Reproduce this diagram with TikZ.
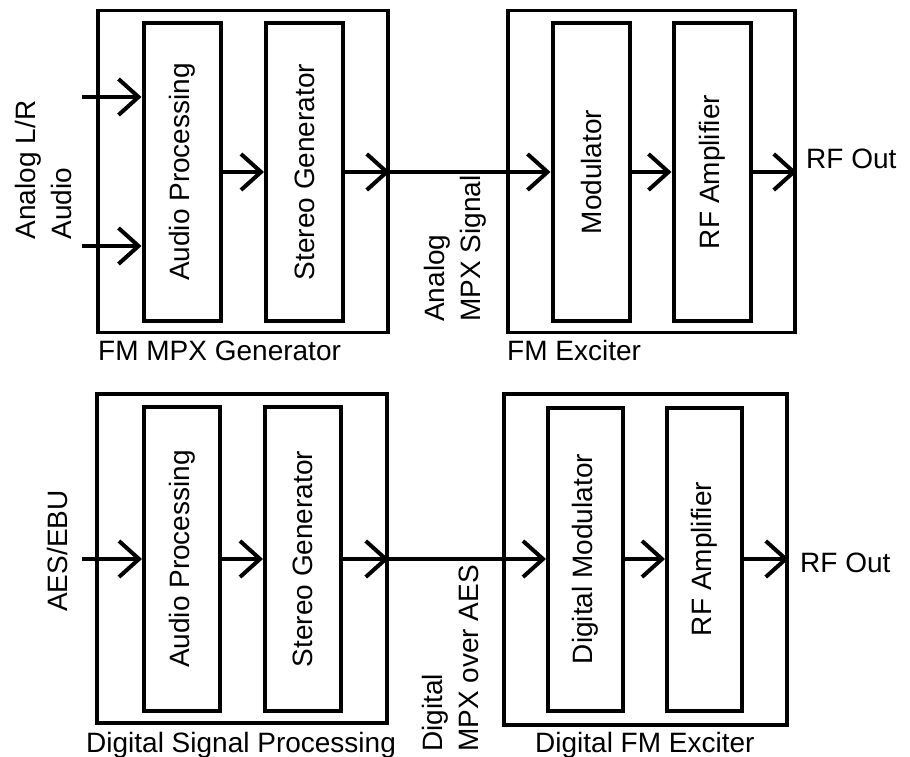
\documentclass[tikz,border=0pt]{standalone}
\usepackage{fontspec}
\setmainfont{Liberation Sans}
\usepackage{tikz}
\usetikzlibrary{arrows.meta}
\tikzset{
  flow/.style={-{Straight Barb[length=20pt,width=36pt]}, line width=4pt},
  outerbox/.style={draw, line width=3.5pt, minimum width=290pt, minimum height=322pt, inner sep=0pt},
  block/.style={draw, line width=4pt, minimum width=77pt, minimum height=298pt, inner sep=0pt},
  lbl/.style={inner sep=0pt},
  vlbl/.style={lbl, rotate=90, align=left}
}

\begin{document}
\begin{tikzpicture}[x=1pt, y=-1pt, font=\fontsize{28}{36}\selectfont]
  \useasboundingbox (0,0) rectangle (910,757);
  % analog chain
  \node[outerbox] (gen) at (243,171.5) {};
  \node[block] (ap1) at (182,172) {\rotatebox{90}{Audio Processing}};
  \node[block] (sg1) at (304.5,172) {\rotatebox{90}{Stereo Generator}};
  \node[outerbox, minimum width=287pt] (exc) at (651.5,171.5) {};
  \node[block] (mod1) at (591,172) {\rotatebox{90}{Modulator}};
  \node[block] (rfa1) at (712,172) {\rotatebox{90}{RF Amplifier}};
  \coordinate (inL) at (82,97);
  \coordinate (inR) at (82,246);
  \node[vlbl] (inlbl) at (43,170) {Analog L/R\\Audio};
  \node[vlbl, anchor=west] (mpxlbl) at (455,322) {Analog\\MPX Signal};
  \node[lbl, anchor=base west] (rfout1) at (806,168) {RF Out};
  \node[lbl, anchor=base west] (genlbl) at (98,360) {FM MPX Generator};
  \node[lbl, anchor=base west] (exclbl) at (507,360) {FM Exciter};
  \draw[flow] (inL) -- (ap1.west |- inL);
  \draw[flow] (inR) -- (ap1.west |- inR);
  \draw[flow] (ap1) -- (sg1);
  \draw[flow] (sg1) -- (gen.east |- sg1);
  \draw[flow] (gen.east |- sg1) -- (mod1);
  \draw[flow] (mod1) -- (rfa1);
  \draw[flow] (rfa1) -- (exc.east |- rfa1);
  % digital chain
  \node[outerbox, minimum height=329pt] (dsp) at (242,558.5) {};
  \node[block, minimum width=76pt, minimum height=304pt] (ap2) at (182,559) {\rotatebox{90}{Audio Processing}};
  \node[block, minimum width=76pt, minimum height=304pt] (sg2) at (303,559) {\rotatebox{90}{Stereo Generator}};
  \node[outerbox, minimum width=283pt, minimum height=331pt] (dexc) at (645.5,559.5) {};
  \node[block, minimum width=75pt, minimum height=303pt] (dmod) at (585.5,559) {\rotatebox{90}{Digital Modulator}};
  \node[block, minimum width=75pt, minimum height=303pt] (rfa2) at (704.5,559) {\rotatebox{90}{RF Amplifier}};
  \coordinate (inD) at (82,559);
  \node[vlbl] (aeslbl) at (57,551) {AES/EBU};
  \node[vlbl, anchor=west] (aesmpx) at (450,752) {Digital\\MPX over AES};
  \node[lbl, anchor=base west] (rfout2) at (800,572) {RF Out};
  \node[lbl, anchor=base west] (dsplbl) at (86,752) {Digital Signal Processing};
  \node[lbl, anchor=base west] (dexclbl) at (535,752) {Digital FM Exciter};
  \draw[flow] (inD) -- (ap2.west |- inD);
  \draw[flow] (ap2) -- (sg2);
  \draw[flow] (sg2) -- (dsp.east |- sg2);
  \draw[flow] (dsp.east |- sg2) -- (dmod);
  \draw[flow] (dmod) -- (rfa2);
  \draw[flow] (rfa2) -- (dexc.east |- rfa2);
\end{tikzpicture}
\end{document}
